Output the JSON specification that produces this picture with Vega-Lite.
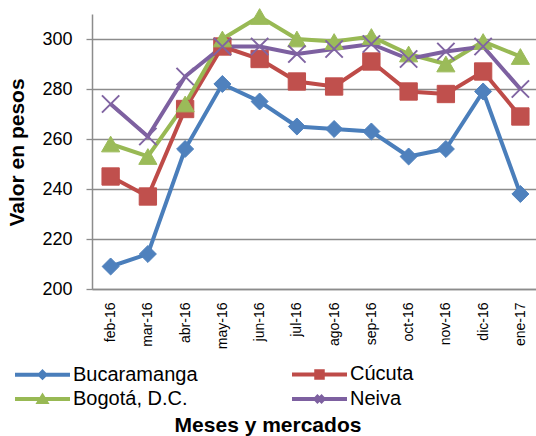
{
  "$schema": "https://vega.github.io/schema/vega-lite/v6.json",
  "width": 447,
  "height": 275,
  "autosize": {"type": "none"},
  "padding": {"left": 92, "top": 14, "right": 0, "bottom": 147},
  "background": "white",
  "config": {"view": {"stroke": null}, "font": "Liberation Sans"},
  "data": {
    "values": [
      {"mes": "feb-16", "serie": "Bucaramanga", "valor": 209},
      {"mes": "mar-16", "serie": "Bucaramanga", "valor": 214},
      {"mes": "abr-16", "serie": "Bucaramanga", "valor": 256},
      {"mes": "may-16", "serie": "Bucaramanga", "valor": 282},
      {"mes": "jun-16", "serie": "Bucaramanga", "valor": 275},
      {"mes": "jul-16", "serie": "Bucaramanga", "valor": 265},
      {"mes": "ago-16", "serie": "Bucaramanga", "valor": 264},
      {"mes": "sep-16", "serie": "Bucaramanga", "valor": 263},
      {"mes": "oct-16", "serie": "Bucaramanga", "valor": 253},
      {"mes": "nov-16", "serie": "Bucaramanga", "valor": 256},
      {"mes": "dic-16", "serie": "Bucaramanga", "valor": 279},
      {"mes": "ene-17", "serie": "Bucaramanga", "valor": 238},
      {"mes": "feb-16", "serie": "Cúcuta", "valor": 245},
      {"mes": "mar-16", "serie": "Cúcuta", "valor": 237},
      {"mes": "abr-16", "serie": "Cúcuta", "valor": 272},
      {"mes": "may-16", "serie": "Cúcuta", "valor": 297},
      {"mes": "jun-16", "serie": "Cúcuta", "valor": 292},
      {"mes": "jul-16", "serie": "Cúcuta", "valor": 283},
      {"mes": "ago-16", "serie": "Cúcuta", "valor": 281},
      {"mes": "sep-16", "serie": "Cúcuta", "valor": 291},
      {"mes": "oct-16", "serie": "Cúcuta", "valor": 279},
      {"mes": "nov-16", "serie": "Cúcuta", "valor": 278},
      {"mes": "dic-16", "serie": "Cúcuta", "valor": 287},
      {"mes": "ene-17", "serie": "Cúcuta", "valor": 269},
      {"mes": "feb-16", "serie": "Bogotá, D.C.", "valor": 258},
      {"mes": "mar-16", "serie": "Bogotá, D.C.", "valor": 253},
      {"mes": "abr-16", "serie": "Bogotá, D.C.", "valor": 274},
      {"mes": "may-16", "serie": "Bogotá, D.C.", "valor": 300},
      {"mes": "jun-16", "serie": "Bogotá, D.C.", "valor": 309},
      {"mes": "jul-16", "serie": "Bogotá, D.C.", "valor": 300},
      {"mes": "ago-16", "serie": "Bogotá, D.C.", "valor": 299},
      {"mes": "sep-16", "serie": "Bogotá, D.C.", "valor": 301},
      {"mes": "oct-16", "serie": "Bogotá, D.C.", "valor": 294},
      {"mes": "nov-16", "serie": "Bogotá, D.C.", "valor": 290},
      {"mes": "dic-16", "serie": "Bogotá, D.C.", "valor": 299},
      {"mes": "ene-17", "serie": "Bogotá, D.C.", "valor": 293},
      {"mes": "feb-16", "serie": "Neiva", "valor": 274},
      {"mes": "mar-16", "serie": "Neiva", "valor": 261},
      {"mes": "abr-16", "serie": "Neiva", "valor": 285},
      {"mes": "may-16", "serie": "Neiva", "valor": 297},
      {"mes": "jun-16", "serie": "Neiva", "valor": 297},
      {"mes": "jul-16", "serie": "Neiva", "valor": 294},
      {"mes": "ago-16", "serie": "Neiva", "valor": 296},
      {"mes": "sep-16", "serie": "Neiva", "valor": 298},
      {"mes": "oct-16", "serie": "Neiva", "valor": 292},
      {"mes": "nov-16", "serie": "Neiva", "valor": 295},
      {"mes": "dic-16", "serie": "Neiva", "valor": 297},
      {"mes": "ene-17", "serie": "Neiva", "valor": 280}
    ]
  },
  "encoding": {
    "x": {
      "field": "mes",
      "type": "nominal",
      "sort": ["feb-16", "mar-16", "abr-16", "may-16", "jun-16", "jul-16", "ago-16", "sep-16", "oct-16", "nov-16", "dic-16", "ene-17"],
      "axis": {
        "labelAngle": -90,
        "labelFontSize": 14,
        "labelColor": "#000000",
        "labelPadding": 13,
        "ticks": false,
        "tickSize": 0,
        "domainColor": "#8c8c8c",
        "domainWidth": 1.5,
        "grid": false,
        "title": "Meses y mercados",
        "titleFontSize": 21,
        "titleFontWeight": "bold",
        "titleColor": "#000000",
        "titleX": 175.5,
        "titleY": 142.7,
        "titleBaseline": "alphabetic",
        "titleAlign": "center"
      }
    },
    "y": {
      "field": "valor",
      "type": "quantitative",
      "scale": {"domain": [200, 310], "nice": false, "zero": false},
      "axis": {
        "values": [200, 220, 240, 260, 280, 300],
        "grid": true,
        "gridColor": "#8c8c8c",
        "gridWidth": 1.3,
        "domainColor": "#8c8c8c",
        "domainWidth": 1.5,
        "tickColor": "#8c8c8c",
        "tickWidth": 1.3,
        "tickSize": 6,
        "labelFontSize": 18,
        "labelColor": "#000000",
        "labelPadding": 14,
        "title": "Valor en pesos",
        "titleFontSize": 21,
        "titleFontWeight": "bold",
        "titleColor": "#000000",
        "titleAngle": 270,
        "titleX": -69,
        "titleY": 138,
        "titleBaseline": "alphabetic",
        "titleAlign": "center"
      }
    }
  },
  "layer": [
    {
      "mark": {"type": "line", "strokeWidth": 4},
      "encoding": {
        "color": {
          "field": "serie",
          "type": "nominal",
          "scale": {
            "domain": ["Bucaramanga", "Cúcuta", "Bogotá, D.C.", "Neiva"],
            "range": ["#4A7EBB", "#BE4B48", "#98B954", "#7D60A0"]
          },
          "legend": {
            "title": null,
            "orient": "none",
            "legendX": -59.5,
            "legendY": 350,
            "direction": "horizontal",
            "columns": 2,
            "columnPadding": 85,
            "rowPadding": 1,
            "padding": 0,
            "labelFontSize": 20,
            "labelColor": "#000000",
            "labelOffset": 20.5,
            "labelLimit": 300,
            "symbolSize": 100,
            "symbolStrokeWidth": 4,
            "encode": {
              "symbols": {
                "update": {
                  "shape": {"signal": "datum.value === 'Bucaramanga' ? 'M-5.5,0H5.5M0,-0.55L0.55,0L0,0.55L-0.55,0Z' : datum.value === 'Neiva' ? 'M-5.5,0H5.5M-0.7,-0.7L0.7,0.7M0.7,-0.7L-0.7,0.7' : datum.value === 'Cúcuta' ? 'M-5.5,0H5.5M-0.65,-0.65H0.65V0.65H-0.65Z' : 'M-5.5,0H5.5M0,-0.55L0.7,0.6H-0.7Z'"},
                  "fill": {"scale": "color", "field": "value"},
                  "stroke": {"scale": "color", "field": "value"},
                  "strokeWidth": {"value": 4},
                  "opacity": {"value": 1}
                }
              }
            }
          }
        }
      }
    },
    {
      "transform": [{"filter": {"field": "serie", "equal": "Bucaramanga"}}],
      "mark": {"type": "point", "shape": "diamond", "filled": true, "opacity": 1, "size": 290, "fill": "#4F81BD", "stroke": "#4F81BD", "strokeWidth": 1}
    },
    {
      "transform": [{"filter": {"field": "serie", "equal": "Cúcuta"}}],
      "mark": {"type": "point", "shape": "square", "filled": true, "opacity": 1, "size": 300, "fill": "#C0504D", "stroke": "#C0504D", "strokeWidth": 1}
    },
    {
      "transform": [{"filter": {"field": "serie", "equal": "Bogotá, D.C."}}],
      "mark": {"type": "point", "shape": "triangle-up", "filled": true, "opacity": 1, "size": 330, "fill": "#9BBB59", "stroke": "#9BBB59", "strokeWidth": 1}
    },
    {
      "transform": [{"filter": {"field": "serie", "equal": "Neiva"}}],
      "mark": {"type": "point", "shape": "M-1,-1L1,1M1,-1L-1,1", "filled": false, "opacity": 1, "size": 300, "stroke": "#8064A2", "strokeWidth": 2}
    }
  ]
}
